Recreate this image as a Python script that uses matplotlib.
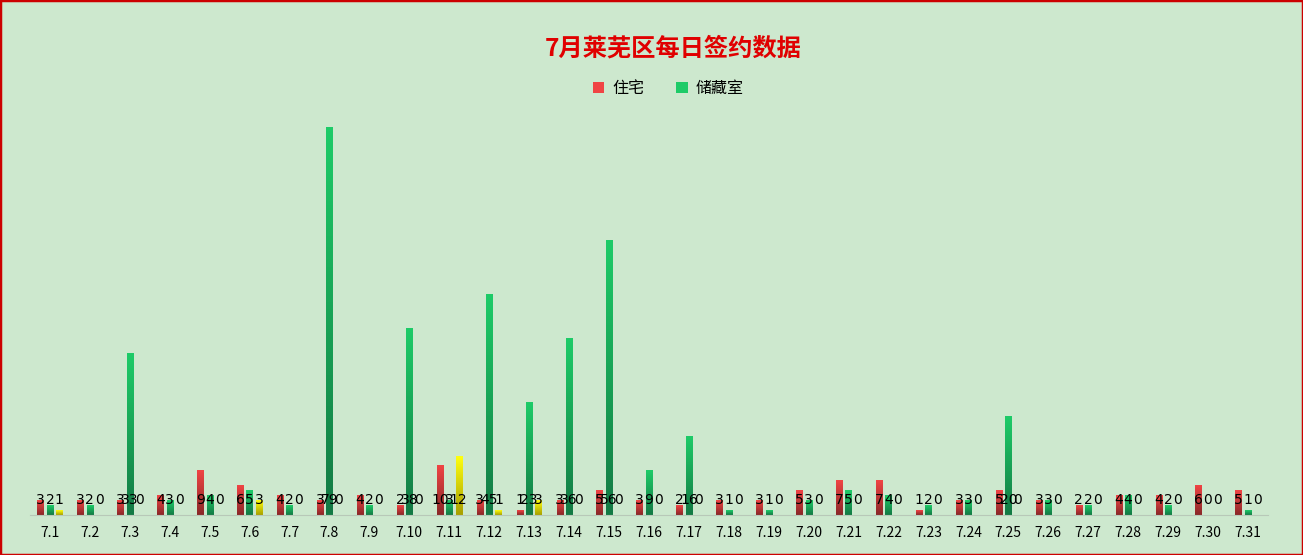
import numpy as np
import matplotlib.pyplot as plt
from matplotlib.colors import LinearSegmentedColormap
from matplotlib.patches import Rectangle

plt.rcParams['font.family'] = ['Noto Sans CJK SC', 'DejaVu Sans']

# data
days = ['7.%d' % d for d in range(1, 32)]
zhuzhai = [3, 3, 3, 4, 9, 6, 4, 3, 4, 2, 10, 3, 1, 3, 5, 3, 2, 3, 3, 5,
           7, 7, 1, 3, 5, 3, 2, 4, 4, 6, 5]
chucang = [2, 2, 33, 3, 4, 5, 2, 79, 2, 38, 3, 45, 23, 36, 56, 9, 16, 1, 1, 3,
           5, 4, 2, 3, 20, 3, 2, 4, 2, 0, 1]
other = [1, 0, 0, 0, 0, 3, 0, 0, 0, 0, 12, 1, 3, 0, 0, 0, 0, 0, 0, 0,
         0, 0, 0, 0, 0, 0, 0, 0, 0, 0, 0]

bg = '#CDE8CE'
series = [
    (zhuzhai, -0.235, ['#8A2828', '#F04444'], '住宅'),
    (chucang, 0.0, ['#137A44', '#1ECB68'], '储藏室'),
    (other, 0.235, ['#A8A000', '#FFFF10'], None),
]
width = 0.155

fig = plt.figure(figsize=(13.03, 5.55), dpi=100, facecolor=bg)
fig.patches.append(Rectangle((0, 0), 1, 1, transform=fig.transFigure,
                             fill=False, edgecolor='#CC0000', linewidth=2.5))
ax = fig.add_axes([0.023, 0.0721, 0.950, 0.7207])
ax.set_facecolor(bg)

x = np.arange(len(days))
grad = np.linspace(0, 1, 100).reshape(-1, 1)
for vals, off, cols, name in series:
    cmap = LinearSegmentedColormap.from_list('g', cols)
    for i, v in enumerate(vals):
        xc = x[i] + off
        if v > 0:
            ax.imshow(grad, cmap=cmap, origin='lower', aspect='auto',
                      extent=(xc - width / 2, xc + width / 2, 0, v), zorder=2)
        # value label sits on a fixed line near the base
        ax.text(xc, 3.0, str(v), ha='center', va='center', fontsize=10,
                color='black', zorder=3, family=['DejaVu Sans'])

ax.set_xlim(-0.5, len(days) - 0.5)
ax.set_ylim(0, 81.6)
ax.set_xticks(x)
ax.set_xticklabels(days, fontsize=10)
ax.tick_params(axis='x', length=0, pad=8)
ax.set_yticks([])
for s in ['top', 'right', 'left']:
    ax.spines[s].set_visible(False)
ax.spines['bottom'].set_color('#B8C8B8')

fig.text(0.517, 0.913, '7月莱芜区每日签约数据', ha='center', va='center',
         fontsize=17.5, fontweight='bold', color='#E00000')

# legend
handles = [Rectangle((0, 0), 1, 1, facecolor=s[2][1], edgecolor='none')
           for s in series[:2]]
fig.legend(handles, ['住宅', '储藏室'], loc='center', bbox_to_anchor=(0.513, 0.841),
           ncol=2, frameon=False, fontsize=11.5, handlelength=0.7, handleheight=0.7,
           columnspacing=2.0, handletextpad=0.5)

plt.savefig('out.png', dpi=100, facecolor=bg)
